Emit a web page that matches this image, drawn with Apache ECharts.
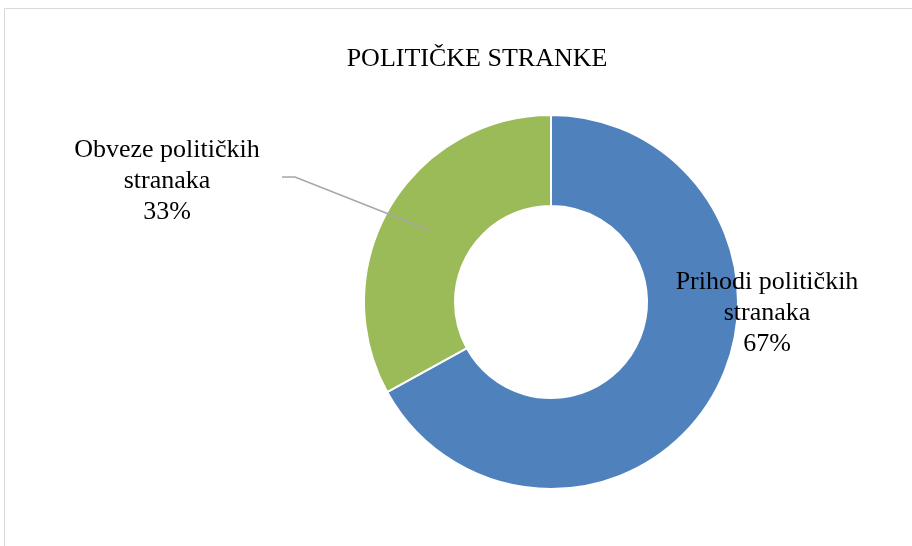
<!DOCTYPE html>
<html>
<head>
<meta charset="utf-8">
<script src="https://cdn.jsdelivr.net/npm/echarts@6/dist/echarts.min.js"></script>
<style>html,body{margin:0;padding:0;background:#fff}#c{width:912px;height:546px}</style>
</head>
<body>
<div id="c"></div>
<script>
const titleText = 'POLITIČKE STRANKE';
const categories = ['Prihodi političkih stranaka', 'Obveze političkih stranaka'];
const values = [67, 33];
const colors = ['#4F81BD', '#9BBB59'];

const chart = echarts.init(document.getElementById('c'), null, {renderer: 'canvas'});
const CX = 551, CY = 302, R0 = 96, R1 = 187;
const FONT = '"Liberation Serif", "Times New Roman", serif';
const total = values.reduce((a, b) => a + b, 0);

// label placement relative to pie centre (layout, not data)
const labelPos = [
  {dx: 216, dy: 11},
  {dx: -384, dy: -121}
];

const pieBase = {
  type: 'pie',
  center: [CX, CY],
  radius: [R0, R1],
  startAngle: 90,
  clockwise: true
};

chart.setOption({
  backgroundColor: '#fff',
  animation: false,
  title: {
    text: titleText,
    left: 477, top: 46, textAlign: 'center', padding: 0,
    textStyle: {fontFamily: FONT, fontSize: 26, fontWeight: 'normal', color: '#000'}
  },
  graphic: [{
    type: 'rect', silent: true,
    shape: {x: 4.5, y: 8.5, width: 930, height: 560},
    style: {fill: null, stroke: '#D9D9D9', lineWidth: 1}
  }],
  series: [
    Object.assign({}, pieBase, {
      z: 2,
      itemStyle: {borderColor: '#fff', borderWidth: 2},
      label: {show: false},
      labelLine: {show: false},
      data: categories.map((n, i) => ({name: n, value: values[i], itemStyle: {color: colors[i]}}))
    }),
    Object.assign({}, pieBase, {
      z: 3,
      silent: true,
      itemStyle: {color: 'rgba(0,0,0,0)', borderWidth: 0},
      label: {
        show: true,
        position: 'outside',
        overflow: 'none',
        fontFamily: FONT, fontSize: 26, lineHeight: 31, color: '#000',
        align: 'center',
        formatter: p => p.name.replace(' stranaka', '\nstranaka') + '\n' + Math.round(p.value / total * 100) + '%'
      },
      labelLine: {show: true, lineStyle: {color: '#A6A6A6', width: 1.5}},
      labelLayout: function (params) {
        const i = params.dataIndex;
        const res = {x: CX + labelPos[i].dx, y: CY + labelPos[i].dy, align: 'center', verticalAlign: 'middle'};
        if (i === 1) {
          res.labelLinePoints = [[CX - 122, CY - 72], [CX - 256, CY - 125], [CX - 269, CY - 125]];
        }
        return res;
      },
      data: categories.map((n, i) => ({
        name: n, value: values[i],
        label: i === 0 ? {position: 'inside', overflow: 'none'} : {},
        labelLine: {show: i === 1}
      }))
    })
  ]
});
</script>
</body>
</html>
